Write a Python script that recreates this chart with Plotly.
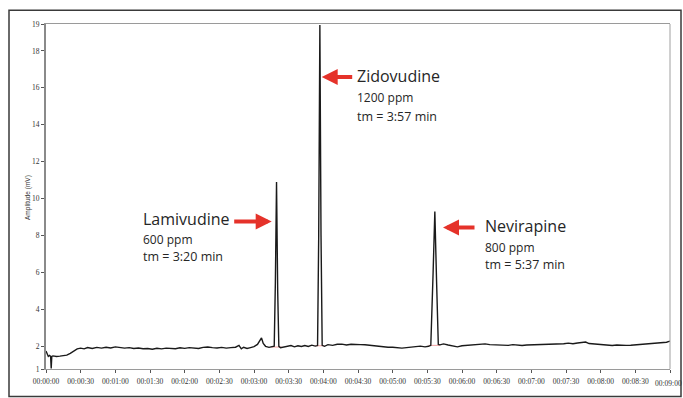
import plotly.graph_objects as go

# ---------------- data ----------------
time_s = [0, 1, 2, 3, 4, 4.5, 5, 6, 9, 12, 15, 18, 21, 24, 27, 30, 33, 36, 40, 44, 48, 52, 56, 60,
          64, 68, 72, 76, 80, 84, 88, 92, 96, 100, 104, 108, 112, 116, 120, 124, 128, 132, 136,
          140, 144, 148, 152, 156, 160, 164, 167, 169, 171, 174, 177, 180, 183, 185, 186.5, 188,
          190, 193, 196, 197.5, 198.5, 199.5, 200.5, 201.5, 203, 206, 209, 212, 215, 218, 221,
          224, 227, 230, 233, 235, 236, 237, 238, 239, 241, 244, 248, 252, 256, 260, 264, 268,
          272, 276, 280, 284, 288, 292, 296, 300, 304, 308, 312, 316, 320, 324, 328, 331, 333,
          335, 336.5, 338, 339.5, 341, 344, 348, 352, 356, 360, 364, 368, 372, 376, 380, 384,
          388, 392, 396, 400, 404, 408, 412, 416, 420, 424, 428, 432, 436, 440, 444, 448, 452,
          456, 460, 464, 467, 470, 474, 478, 482, 486, 490, 494, 498, 502, 506, 510, 514, 518,
          522, 526, 530, 534, 537, 540]
amplitude_mv = [1.75, 1.55, 1.45, 1.5, 1.45, 0.8, 1.45, 1.48, 1.45, 1.47, 1.48, 1.52, 1.62, 1.75,
                1.86, 1.9, 1.86, 1.93, 1.88, 1.94, 1.9, 1.95, 1.91, 1.97, 1.92, 1.9, 1.93, 1.88,
                1.91, 1.87, 1.88, 1.84, 1.89, 1.86, 1.9, 1.88, 1.87, 1.92, 1.89, 1.93, 1.9, 1.88,
                1.94, 1.96, 1.93, 1.91, 1.94, 1.9, 1.93, 1.95, 2.05, 1.86, 1.95, 1.88, 1.93, 1.98,
                2.1, 2.35, 2.45, 2.15, 2.0, 1.94, 1.96, 2.0, 5.5, 10.9, 5.0, 2.0, 1.92, 1.97, 2.0,
                2.04, 1.97, 2.03, 1.99, 2.04, 1.99, 2.06, 2.01, 2.04, 8.0, 19.4, 8.0, 2.05, 2.0, 2.09,
                2.05, 2.11, 2.12, 2.07, 2.11, 2.12, 2.09, 2.08, 2.05, 2.05, 2.01, 1.98, 1.95, 1.95,
                1.91, 1.9, 1.93, 1.94, 1.98, 2.01, 1.97, 2.0, 2.05, 6.0, 9.3, 5.5, 2.1, 2.08, 2.13,
                2.07, 2.03, 1.97, 2.03, 2.05, 2.03, 2.09, 2.1, 2.13, 2.09, 2.08, 2.11, 2.06, 2.05,
                2.09, 2.05, 2.04, 2.07, 2.08, 2.05, 2.06, 2.08, 2.11, 2.09, 2.13, 2.14, 2.17, 2.14,
                2.18, 2.21, 2.23, 2.15, 2.12, 2.09, 2.08, 2.05, 2.04, 2.07, 2.04, 2.05, 2.06, 2.08,
                2.07, 2.11, 2.12, 2.14, 2.15, 2.19, 2.22, 2.28]

# integration baselines (pink) under each peak: start, end, level
base_start = [195, 233, 331]
base_end = [204, 241, 341]
base_level = [1.96, 2.03, 2.05]

# peak labels
peak_names = ["Lamivudine", "Zidovudine", "Nevirapine"]
peak_conc = ["600 ppm", "1200 ppm", "800 ppm"]
peak_tm = ["tm = 3:20 min", "tm = 3:57 min", "tm = 5:37 min"]

# axis ticks
x_tickvals = list(range(0, 541, 30))
x_ticktext = ["00:%02d:%02d" % (v // 60, v % 60) for v in x_tickvals]
y_tickvals = [0.77, 2, 4, 6, 8, 10, 12, 14, 16, 18, 19.46]
y_ticktext = ["1", "2", "4", "6", "8", "10", "12", "14", "16", "18", "19"]
y_range = [0.77, 19.46]

# ---------------- layout geometry (pixels) ----------------
W, H = 683, 398
L, R, T, B = 46, 670, 24, 375


def px_x(px):
    return (px - L) / (R - L) * 540.0


def px_y(py):
    return y_range[0] + (B - py) / (B - T) * (y_range[1] - y_range[0])


def pap_x(px):
    return (px - L) / (R - L)


def pap_y(py):
    return (B - py) / (B - T)


fig = go.Figure()

for s, e, lv in zip(base_start, base_end, base_level):
    fig.add_trace(go.Scatter(x=[s, e], y=[lv, lv], mode="lines",
                             line=dict(color="#f2a3a3", width=1), hoverinfo="skip",
                             showlegend=False))

fig.add_trace(go.Scatter(x=time_s, y=amplitude_mv, mode="lines",
                         line=dict(color="#1a1a1a", width=1.4), showlegend=False))

red = "#e5322a"
txt_col = "#262626"
font_main = "Open Sans"

# arrows: (head px x, head px y, tail offset px)
arrows = [(271.7, 225, -39), (321.7, 78, 32), (443, 231, 33)]
for hx, hy, off in arrows:
    fig.add_annotation(x=px_x(hx), y=px_y(hy), ax=off, ay=0, xref="x", yref="y",
                       text="", showarrow=True, arrowhead=2, arrowsize=0.8,
                       arrowwidth=4, arrowcolor=red, standoff=0)

# text blocks: left px, name y, conc y, tm y
blocks = [(141, 222, 243, 261), (355, 77, 99, 118), (483, 230, 251, 269)]
for (lx, ny, cy, ty), nm, cc, tm in zip(blocks, peak_names, peak_conc, peak_tm):
    fig.add_annotation(x=px_x(lx), y=px_y(ny), xref="x", yref="y", text=nm,
                       showarrow=False, xanchor="left", yanchor="middle",
                       font=dict(family=font_main, size=16, color=txt_col))
    fig.add_annotation(x=px_x(lx), y=px_y(cy), xref="x", yref="y", text=cc,
                       showarrow=False, xanchor="left", yanchor="middle",
                       font=dict(family=font_main, size=12, color=txt_col))
    fig.add_annotation(x=px_x(lx), y=px_y(ty), xref="x", yref="y", text=tm,
                       showarrow=False, xanchor="left", yanchor="middle",
                       font=dict(family=font_main, size=12.5, color=txt_col))

# y axis title
fig.add_annotation(x=pap_x(22), y=pap_y(201), xref="paper", yref="paper",
                   text="Amplitude (mV)", textangle=-90, showarrow=False,
                   font=dict(family="Liberation Sans", size=6.5, color="#333"))

tick_font = dict(family="Liberation Serif", size=7.5, color="#333")

# last x tick label sits at the right edge of the picture (kept inside the page)
last_label = x_ticktext[-1]
shown_ticktext = x_ticktext[:-1] + [""]
fig.add_annotation(x=pap_x(W), y=pap_y(384), xref="paper", yref="paper",
                   text=last_label, showarrow=False, xanchor="right", yanchor="top",
                   font=tick_font, borderpad=0)

# outer frame and right plot border
fig.add_shape(type="rect", xref="paper", yref="paper",
              x0=pap_x(9), x1=pap_x(681), y0=pap_y(403), y1=pap_y(10),
              line=dict(color="#3a3a3a", width=1.5))
fig.add_shape(type="line", xref="paper", yref="paper",
              x0=1, x1=1, y0=0, y1=1, line=dict(color="#a0a0a0", width=1))

fig.update_layout(
    width=W, height=H,
    margin=dict(l=L, r=W - R, t=T, b=H - B),
    paper_bgcolor="white", plot_bgcolor="white",
    xaxis=dict(range=[0, 540], tickvals=x_tickvals, ticktext=shown_ticktext,
               showgrid=False, zeroline=False, showline=True, linecolor="#9a9a9a",
               linewidth=1, mirror=True, ticks="outside", ticklen=3, tickcolor="#555",
               tickfont=tick_font, ticklabelstandoff=2),
    yaxis=dict(range=y_range, tickvals=y_tickvals, ticktext=y_ticktext,
               showgrid=False, zeroline=False, showline=True, linecolor="#8a8a8a",
               linewidth=2, ticks="outside", ticklen=3, tickcolor="#555",
               tickfont=tick_font),
)

fig.write_html(
    "out.html", config={"displayModeBar": False},
    post_script="document.body.style.margin='0';document.body.style.overflow='hidden';")
